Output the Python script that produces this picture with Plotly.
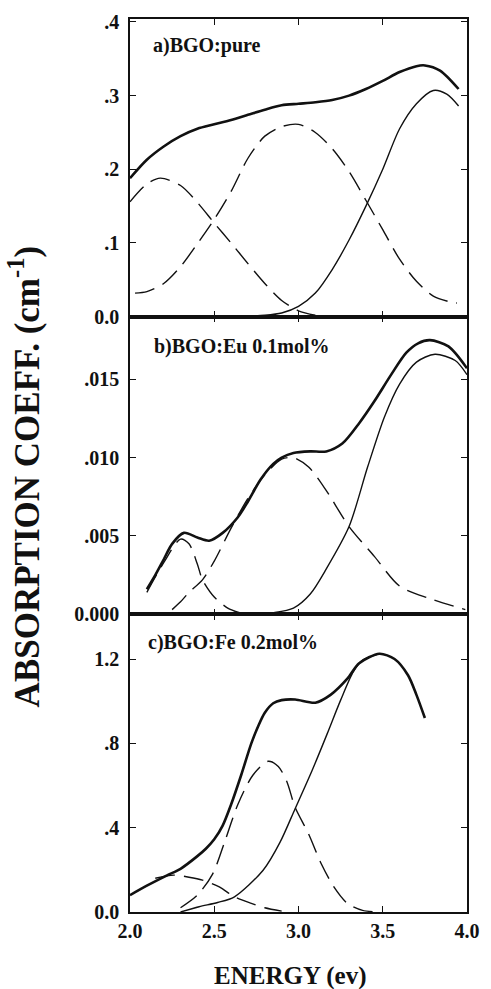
import plotly.graph_objects as go

# ---------------- data ----------------
# Panel a) BGO:pure
a_tot_x = [2.0, 2.1, 2.2, 2.3, 2.4, 2.5, 2.6, 2.7, 2.8, 2.9, 3.0, 3.1, 3.2, 3.3, 3.4, 3.5, 3.6, 3.7, 3.75, 3.84, 3.95]
a_tot_y = [0.188, 0.213, 0.231, 0.245, 0.255, 0.261, 0.267, 0.274, 0.281, 0.287, 0.289, 0.291, 0.294, 0.300, 0.309, 0.320, 0.332, 0.340, 0.341, 0.334, 0.309]
a_d1_x = [2.0, 2.1, 2.18, 2.3, 2.4, 2.5, 2.6, 2.7, 2.8, 2.9, 3.0, 3.1]
a_d1_y = [0.156, 0.180, 0.188, 0.178, 0.155, 0.127, 0.100, 0.072, 0.045, 0.022, 0.008, 0.002]
a_d2_x = [2.03, 2.1, 2.2, 2.3, 2.4, 2.5, 2.6, 2.7, 2.8, 2.9, 3.0, 3.1, 3.2, 3.3, 3.4, 3.5, 3.6, 3.7, 3.8, 3.9, 3.94]
a_d2_y = [0.032, 0.034, 0.045, 0.068, 0.099, 0.132, 0.170, 0.215, 0.245, 0.258, 0.261, 0.250, 0.228, 0.197, 0.158, 0.118, 0.078, 0.048, 0.028, 0.020, 0.0185]
a_s_x = [2.6, 2.7, 2.8, 2.9, 3.0, 3.1, 3.2, 3.3, 3.4, 3.5, 3.6, 3.7, 3.8, 3.88, 3.95]
a_s_y = [0.0, 0.001, 0.002, 0.005, 0.014, 0.032, 0.064, 0.104, 0.150, 0.200, 0.255, 0.289, 0.307, 0.302, 0.286]

# Panel b) BGO:Eu 0.1mol%
b_tot_x = [2.10, 2.15, 2.2, 2.25, 2.32, 2.4, 2.47, 2.55, 2.64, 2.7, 2.775, 2.85, 2.9, 2.97, 3.07, 3.165, 3.26, 3.36, 3.45, 3.55, 3.64, 3.71, 3.78, 3.89, 4.0]
b_tot_y = [0.0016, 0.0025, 0.0035, 0.0045, 0.0052, 0.0049, 0.0047, 0.0052, 0.0062, 0.0072, 0.0086, 0.0096, 0.0100, 0.0103, 0.0104, 0.0104, 0.0109, 0.0122, 0.0136, 0.0153, 0.0167, 0.0173, 0.0175, 0.0171, 0.0157]
b_d1_x = [2.10, 2.2, 2.3, 2.35, 2.4, 2.43, 2.5, 2.58, 2.65]
b_d1_y = [0.0014, 0.0033, 0.0048, 0.0045, 0.0032, 0.0022, 0.0011, 0.0004, 0.0001]
b_d2_x = [2.25, 2.3, 2.35, 2.43, 2.5, 2.6, 2.7, 2.8, 2.9, 2.97, 3.06, 3.165, 3.30, 3.45, 3.60, 3.78, 3.99]
b_d2_y = [0.0003, 0.0008, 0.0014, 0.0022, 0.0034, 0.0055, 0.0074, 0.0089, 0.0099, 0.0100, 0.0094, 0.0079, 0.0056, 0.0037, 0.0018, 0.0010, 0.0003]
b_s_x = [2.75, 2.85, 2.97, 3.07, 3.165, 3.30, 3.41, 3.51, 3.60, 3.70, 3.81, 3.93, 4.0]
b_s_y = [0.0, 0.0001, 0.0004, 0.0013, 0.0029, 0.0056, 0.0094, 0.0126, 0.0147, 0.0161, 0.0166, 0.0162, 0.0153]

# Panel c) BGO:Fe 0.2mol%
c_tot_x = [2.0, 2.1, 2.22, 2.3, 2.4, 2.45, 2.5, 2.55, 2.6, 2.66, 2.72, 2.76, 2.8, 2.85, 2.9, 2.98, 3.1, 3.19, 3.29, 3.36, 3.48, 3.57, 3.65, 3.70, 3.75]
c_tot_y = [0.080, 0.125, 0.174, 0.205, 0.265, 0.300, 0.345, 0.410, 0.510, 0.650, 0.800, 0.880, 0.945, 0.990, 1.005, 1.008, 0.993, 1.030, 1.107, 1.180, 1.225, 1.200, 1.123, 1.030, 0.920]
c_d1_x = [2.15, 2.26, 2.35, 2.43, 2.53, 2.62, 2.72, 2.8, 2.9]
c_d1_y = [0.160, 0.175, 0.165, 0.151, 0.119, 0.072, 0.041, 0.020, 0.004]
c_d2_x = [2.30, 2.4, 2.49, 2.565, 2.64, 2.73, 2.82, 2.88, 2.93, 2.98, 3.06, 3.135, 3.21, 3.29, 3.38, 3.48]
c_d2_y = [0.020, 0.080, 0.180, 0.340, 0.510, 0.650, 0.715, 0.690, 0.620, 0.496, 0.370, 0.229, 0.119, 0.041, 0.008, 0.0]
c_s_x = [2.3, 2.41, 2.52, 2.62, 2.79, 2.89, 2.98, 3.08, 3.17, 3.25, 3.325, 3.38, 3.48]
c_s_y = [0.0, 0.025, 0.045, 0.072, 0.198, 0.330, 0.490, 0.670, 0.845, 1.005, 1.139, 1.194, 1.225]

x_tickvals = [2.0, 2.5, 3.0, 3.5, 4.0]
x_ticktext = ["2.0", "2.5", "3.0", "3.5", "4.0"]
a_tickvals = [0.0, 0.1, 0.2, 0.3, 0.4]
a_ticktext = ["0.0", ".1", ".2", ".3", ".4"]
b_tickvals = [0.0, 0.005, 0.010, 0.015]
b_ticktext = ["0.000", ".005", ".010", ".015"]
c_tickvals = [0.0, 0.4, 0.8, 1.2]
c_ticktext = ["0.0", ".4", ".8", "1.2"]

panel_labels = ["a)BGO:pure", "b)BGO:Eu 0.1mol%", "c)BGO:Fe 0.2mol%"]
x_title = "ENERGY (ev)"
y_title = "ABSORPTION COEFF. (cm<sup>-1</sup>)"

# ---------------- figure ----------------
FONT = "Liberation Serif"
INK = "#111111"
DASH = "20px,9px"

fig = go.Figure()

def add(xs, ys, ax, kind):
    if kind == "tot":
        line = dict(color=INK, width=2.6, shape="spline", smoothing=0.8)
    elif kind == "thin":
        line = dict(color=INK, width=1.4, shape="spline", smoothing=0.8)
    else:
        line = dict(color=INK, width=1.4, shape="spline", smoothing=0.8, dash=DASH)
    fig.add_trace(go.Scatter(x=xs, y=ys, mode="lines", line=line,
                             xaxis="x" + ax, yaxis="y" + ax,
                             showlegend=False, hoverinfo="skip"))

add(a_d1_x, a_d1_y, "", "dash")
add(a_d2_x, a_d2_y, "", "dash")
add(a_s_x, a_s_y, "", "thin")
add(a_tot_x, a_tot_y, "", "tot")

add(b_d1_x, b_d1_y, "2", "dash")
add(b_d2_x, b_d2_y, "2", "dash")
add(b_s_x, b_s_y, "2", "thin")
add(b_tot_x, b_tot_y, "2", "tot")

add(c_d1_x, c_d1_y, "3", "dash")
add(c_d2_x, c_d2_y, "3", "dash")
add(c_s_x, c_s_y, "3", "thin")
add(c_tot_x, c_tot_y, "3", "tot")

tickfont = dict(family=FONT, size=20, color=INK, weight="bold")

def xaxis(anchor, show_labels):
    return dict(range=[2.0, 4.0], anchor=anchor, tickvals=x_tickvals, ticktext=x_ticktext,
                showticklabels=show_labels, ticks="inside", ticklen=6, tickwidth=1.3,
                tickcolor=INK, showline=True, linecolor=INK, linewidth=1.6,
                mirror="ticks", showgrid=False, zeroline=False, tickfont=tickfont)

def yaxis(anchor, dom, rng, tv, tt):
    return dict(domain=dom, range=rng, anchor=anchor, tickvals=tv, ticktext=tt,
                ticks="inside", ticklen=6, tickwidth=1.3, tickcolor=INK,
                showline=True, linecolor=INK, linewidth=1.6, mirror="ticks",
                showgrid=False, zeroline=False, tickfont=tickfont,
                ticklabelstandoff=5)

fig.update_layout(
    width=491, height=989,
    margin=dict(l=130, r=11, t=13, b=77),
    paper_bgcolor="white", plot_bgcolor="white",
    xaxis=xaxis("y", False),
    xaxis2=xaxis("y2", False),
    xaxis3=xaxis("y3", True),
    yaxis=yaxis("x", [2/3, 1.0], [0, 0.404], a_tickvals, a_ticktext),
    yaxis2=yaxis("x2", [1/3, 2/3], [0, 0.019], b_tickvals, b_ticktext),
    yaxis3=yaxis("x3", [0, 1/3], [0, 1.412], c_tickvals, c_ticktext),
)

lab_font = dict(family=FONT, size=20, color=INK, weight="bold")
fig.add_annotation(text=panel_labels[0], xref="paper", yref="paper", x=0.063, y=0.970,
                   xanchor="left", yanchor="middle", showarrow=False, font=lab_font)
fig.add_annotation(text=panel_labels[1], xref="paper", yref="paper", x=0.066, y=0.633,
                   xanchor="left", yanchor="middle", showarrow=False, font=lab_font)
fig.add_annotation(text=panel_labels[2], xref="paper", yref="paper", x=0.046, y=0.3014,
                   xanchor="left", yanchor="middle", showarrow=False, font=lab_font)

fig.add_annotation(text=x_title, xref="paper", yref="paper", x=0.475, y=-0.0712,
                   xanchor="center", yanchor="middle", showarrow=False,
                   font=dict(family=FONT, size=25, color=INK, weight="bold"))
fig.add_annotation(text=y_title, xref="paper", yref="paper", x=-0.314, y=0.488,
                   xanchor="center", yanchor="middle", showarrow=False, textangle=-90,
                   font=dict(family=FONT, size=35, color=INK, weight="bold"))

fig.write_html("out.html")
